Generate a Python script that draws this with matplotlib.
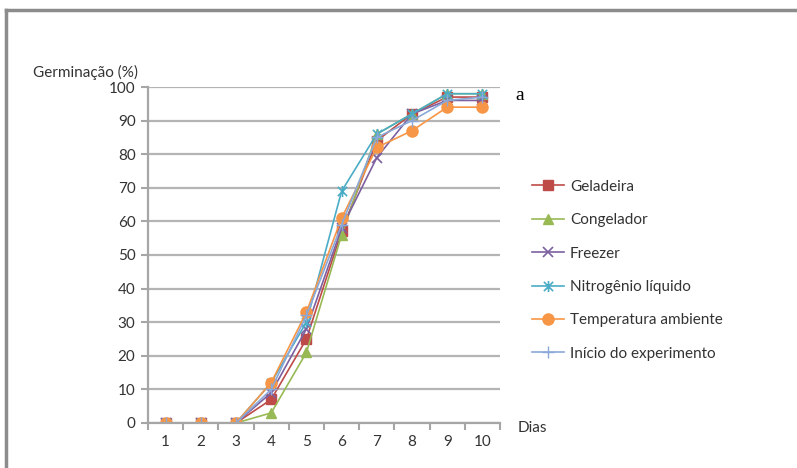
import matplotlib.pyplot as plt
from matplotlib.path import Path
from matplotlib.lines import Line2D

dias = [1, 2, 3, 4, 5, 6, 7, 8, 9, 10]

geladeira = [0, 0, 0, 7, 25, 57, 84, 92, 97, 97]
congelador = [0, 0, 0, 3, 21, 56, 86, 92, 98, 98]
freezer = [0, 0, 0, 9, 28, 58, 79, 92, 96, 96]
nitrogenio = [0, 0, 0, 12, 30, 69, 86, 92, 98, 98]
temperatura = [0, 0, 0, 12, 33, 61, 82, 87, 94, 94]
inicio = [0, 0, 0, 10, 32, 59, 85, 90, 96, 97]

nomes = ["Geladeira", "Congelador", "Freezer", "Nitrogênio líquido",
         "Temperatura ambiente", "Início do experimento"]

# star marker: an x with a vertical stroke
star = Path([(-1, -1), (1, 1), (-1, 1), (1, -1), (0, -1.2), (0, 1.2)],
            [Path.MOVETO, Path.LINETO, Path.MOVETO, Path.LINETO, Path.MOVETO, Path.LINETO])

estilos = [
    dict(color="#BE4B48", marker="s", ms=7),
    dict(color="#98B954", marker="^", ms=7),
    dict(color="#7D60A0", marker="x", ms=7, mew=1.2),
    dict(color="#4BACC6", marker=star, ms=8, mew=1.2),
    dict(color="#F79646", marker="o", ms=8),
    dict(color="#8AA8D8", marker="+", ms=9, mew=1.0),
]

plt.rcParams["font.family"] = ["Lato", "DejaVu Sans"]

fig = plt.figure(figsize=(7.97, 4.68), dpi=100)
ax = fig.add_axes([0.1857, 0.0962, 0.4417, 0.7179])

series = [geladeira, congelador, freezer, nitrogenio, temperatura, inicio]
handles = []
for nome, vals, st in zip(nomes, series, estilos):
    ln, = ax.plot(dias, vals, lw=1.2, label=nome, **st)
    handles.append(ln)

ax.set_xlim(0.5, 10.5)
ax.set_ylim(0, 100)
ax.set_yticks(range(0, 101, 10))
ax.set_xticks(dias)
ax.set_xticks([d + 0.5 for d in range(0, 11)], minor=True)
ax.tick_params(axis="x", which="major", length=0, pad=9, labelsize=11, colors="#333333")
ax.tick_params(axis="x", which="minor", length=5, width=1.5, color="#A6A6A6")
ax.tick_params(axis="y", length=5, width=1.5, color="#A6A6A6", labelsize=11, labelcolor="#333333", pad=4)
ax.grid(axis="y", color="#B4B4B4", lw=1.6)
ax.set_axisbelow(True)
for s in ["top", "right"]:
    ax.spines[s].set_visible(False)
for s in ["left", "bottom"]:
    ax.spines[s].set_color("#A6A6A6")
    ax.spines[s].set_linewidth(1.6)

fig.text(33 / 797, 1 - 72 / 468, "Germinação (%)", fontsize=11, color="#333333", va="center")
fig.text(518 / 797, 1 - 428 / 468, "Dias", fontsize=11, color="#333333", va="center")
fig.text(515 / 797, 1 - 96 / 468, "a", fontsize=14, family="Liberation Serif", va="center")

leg = fig.legend(handles=handles, loc="upper left", bbox_to_anchor=(518 / 797, 1 - 166 / 468),
                 frameon=False, fontsize=11, handlelength=2.1, labelspacing=1.27,
                 handletextpad=0.4)
for t in leg.get_texts():
    t.set_color("#333333")

# outer frame, only the top and left edges show
fig.add_artist(Line2D([6 / 797, 6 / 797], [0, 1 - 10 / 468], color="#8C8C8C", lw=2.5))
fig.add_artist(Line2D([6 / 797, 1], [1 - 10 / 468, 1 - 10 / 468], color="#8C8C8C", lw=2.5))

fig.savefig("out.png", dpi=100)
